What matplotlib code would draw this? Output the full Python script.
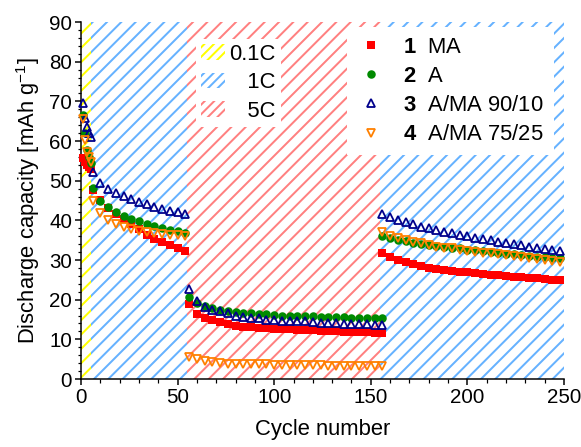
import matplotlib
matplotlib.use('Agg')
import matplotlib.pyplot as plt
import matplotlib.patches as mpatches
from matplotlib.lines import Line2D
from matplotlib.ticker import MultipleLocator

DPI = 86


def px(v):
    return v * 72.0 / DPI


plt.rcParams['font.family'] = ['Liberation Sans', 'DejaVu Sans']
plt.rcParams['mathtext.fontset'] = 'custom'
plt.rcParams['mathtext.rm'] = 'Liberation Sans'
plt.rcParams['mathtext.it'] = 'Liberation Sans:italic'
plt.rcParams['mathtext.bf'] = 'Liberation Sans:bold'
plt.rcParams['hatch.linewidth'] = px(2.0)

# ---------------- data ----------------
cycles_01C = [1, 2, 3, 4, 5]
cycles_1C_a = list(range(6, 55, 4))
cycles_5C = list(range(56, 157, 4))
cycles_1C_b = list(range(156, 249, 4))
cycles = cycles_01C + cycles_1C_a + cycles_5C + cycles_1C_b

ma = ([55.6, 54.8, 54.0, 53.4, 52.9] +
      [47.6, 45.2, 43.2, 41.5, 40.4, 39.2, 37.8, 36.4, 35.3, 34.6, 33.8, 33.0, 32.3] +
      [18.9, 16.4, 15.3, 14.9, 14.3, 13.9, 13.4, 13.2, 13.0, 12.9, 12.8, 12.7, 12.5,
       12.5, 12.4, 12.4, 12.3, 12.2, 12.1, 12.0, 11.9, 11.8, 11.8, 11.8, 11.7, 11.5] +
      [31.8, 30.7, 30.0, 29.4, 28.9, 28.5, 28.1, 27.7, 27.5, 27.2, 27.1, 26.9,
       26.7, 26.5, 26.3, 26.1, 26.0, 25.8, 25.6, 25.5, 25.4, 25.2, 25.0, 24.9])

a = ([66.5, 62.0, 57.7, 56.0, 54.5] +
     [48.1, 45.0, 43.3, 42.2, 41.2, 40.4, 39.8, 39.2, 38.6, 38.1, 37.6, 37.3, 36.9] +
     [20.7, 19.2, 18.4, 17.8, 17.4, 17.1, 17.0, 16.7, 16.6, 16.4, 16.3, 16.1, 16.0,
      16.0, 15.9, 15.9, 15.8, 15.7, 15.7, 15.6, 15.6, 15.5, 15.5, 15.5, 15.5, 15.4] +
     [36.0, 35.5, 35.1, 34.7, 34.4, 34.1, 33.8, 33.6, 33.3, 33.1, 32.9, 32.6,
      32.4, 32.2, 32.0, 31.8, 31.6, 31.4, 31.2, 31.0, 30.8, 30.7, 30.5, 30.4])

ama_90_10 = ([69.7, 65.8, 63.5, 62.0, 61.0] +
             [52.3, 49.3, 47.8, 46.8, 46.1, 45.4, 44.5, 44.1, 43.4, 42.8, 42.4, 42.0, 41.5] +
             [22.6, 19.6, 18.2, 17.5, 17.1, 16.6, 16.0, 15.7, 15.5, 15.3, 15.0, 14.9, 14.7,
              14.6, 14.5, 14.5, 14.3, 14.2, 14.1, 14.0, 13.9, 13.9, 13.9, 13.8, 13.7, 13.5] +
             [41.5, 40.8, 40.1, 39.5, 39.0, 38.4, 38.0, 37.6, 37.1, 36.7, 36.3, 36.0,
              35.6, 35.3, 35.0, 34.6, 34.4, 34.0, 33.7, 33.4, 33.1, 32.8, 32.5, 32.3])

ama_75_25 = ([65.5, 60.2, 57.3, 56.0, 54.8] +
             [45.0, 41.9, 40.2, 39.1, 38.4, 37.7, 37.3, 37.0, 36.8, 36.6, 36.4, 36.3, 36.1] +
             [5.6, 5.0, 4.5, 4.2, 4.0, 3.9, 3.8, 3.8, 3.7, 3.7, 3.7, 3.6, 3.6,
              3.6, 3.5, 3.5, 3.5, 3.5, 3.4, 3.4, 3.4, 3.4, 3.3, 3.3, 3.3, 3.3] +
             [37.0, 36.1, 35.5, 35.0, 34.6, 34.2, 33.8, 33.4, 33.1, 32.9, 32.5, 32.3,
              32.1, 31.8, 31.7, 31.4, 31.3, 31.0, 30.7, 30.4, 30.2, 30.0, 29.7, 29.4])

series_numbers = ['1', '2', '3', '4']
series_names = ['MA', 'A', 'A/MA 90/10', 'A/MA 75/25']
series_values = [ma, a, ama_90_10, ama_75_25]

rate_names = ['0.1C', '1C', '5C']
rate_colors = {'0.1C': '#ffff00', '1C': '#66b2ff', '5C': '#ff8080'}
segment_rates = ['0.1C', '1C', '5C', '1C']
segment_start = [0, 5, 55, 155]
segment_end = [5, 55, 155, 250]

# ---------------- styles ----------------
styles = [
    dict(marker='s', color='#ff0000', mfc='#ff0000', mec='#ff0000', ms=px(7.5), mew=0),
    dict(marker='o', color='#008a00', mfc='#008a00', mec='#008a00', ms=px(8.5), mew=0),
    dict(marker='^', color='#00008b', mfc='none', mec='#00008b', ms=px(8.5), mew=px(1.8)),
    dict(marker='v', color='#ff8000', mfc='none', mec='#ff8000', ms=px(8.5), mew=px(1.8)),
]

fig = plt.figure(figsize=(581 / DPI, 447 / DPI), dpi=DPI)
ax = fig.add_axes([81 / 581, 68 / 447, 483 / 581, 357 / 447])

for r, s, e in zip(segment_rates, segment_start, segment_end):
    ax.axvspan(s, e, facecolor='none', edgecolor=rate_colors[r], hatch='//',
               linewidth=0, zorder=0)

for vals, st in zip(series_values, styles):
    ax.plot(cycles, vals, linestyle='none', zorder=3, clip_on=False, **st)

ax.set_xlim(0, 250)
ax.set_ylim(0, 90)
ax.xaxis.set_major_locator(MultipleLocator(50))
ax.xaxis.set_minor_locator(MultipleLocator(10))
ax.yaxis.set_major_locator(MultipleLocator(10))
ax.yaxis.set_minor_locator(MultipleLocator(2))
for sp in ['top', 'right']:
    ax.spines[sp].set_visible(False)
for sp in ['left', 'bottom']:
    ax.spines[sp].set_linewidth(px(1.5))
ax.tick_params(which='major', direction='out', length=px(6), width=px(1.5),
               labelsize=px(20.5), pad=px(3))
ax.tick_params(which='minor', direction='out', length=px(3.5), width=px(1.2))

ax.set_xlabel('Cycle number', fontsize=px(22), labelpad=px(12))
ax.set_ylabel('Discharge capacity [mAh g$^{-1}$]', fontsize=px(22), labelpad=px(7))

# rate legend
rate_handles = [mpatches.Patch(facecolor='white', edgecolor=rate_colors[n], hatch='///',
                               linewidth=0) for n in rate_names]
rate_labels = ['0.1C', '\u2007\u20081C', '\u2007\u20085C']
leg1 = fig.legend(rate_handles, rate_labels, loc='upper left',
                  bbox_to_anchor=(196 / 581, 1 - 39 / 447), bbox_transform=fig.transFigure,
                  fontsize=px(22), frameon=True, fancybox=False, framealpha=1,
                  facecolor='white', edgecolor='none', borderpad=0.22,
                  handlelength=1.1, handleheight=0.7, handletextpad=0.2,
                  labelspacing=0.34, borderaxespad=0)
leg1.set_zorder(5)

# series legend
ser_handles = [Line2D([], [], linestyle='none', **st) for st in styles]
ser_labels = [r'$\mathbf{%s}$  %s' % (n, t) for n, t in zip(series_numbers, series_names)]
leg2 = fig.legend(ser_handles, ser_labels, loc='upper left',
                  bbox_to_anchor=(347 / 581, 1 - 27 / 447), bbox_transform=fig.transFigure,
                  fontsize=px(22), frameon=True, fancybox=False, framealpha=1,
                  facecolor='white', edgecolor='none', borderpad=0.45,
                  handlelength=1.3, handletextpad=0.8, labelspacing=0.37,
                  borderaxespad=0)
leg2.set_zorder(5)

fig.savefig('out.png', dpi=DPI)
